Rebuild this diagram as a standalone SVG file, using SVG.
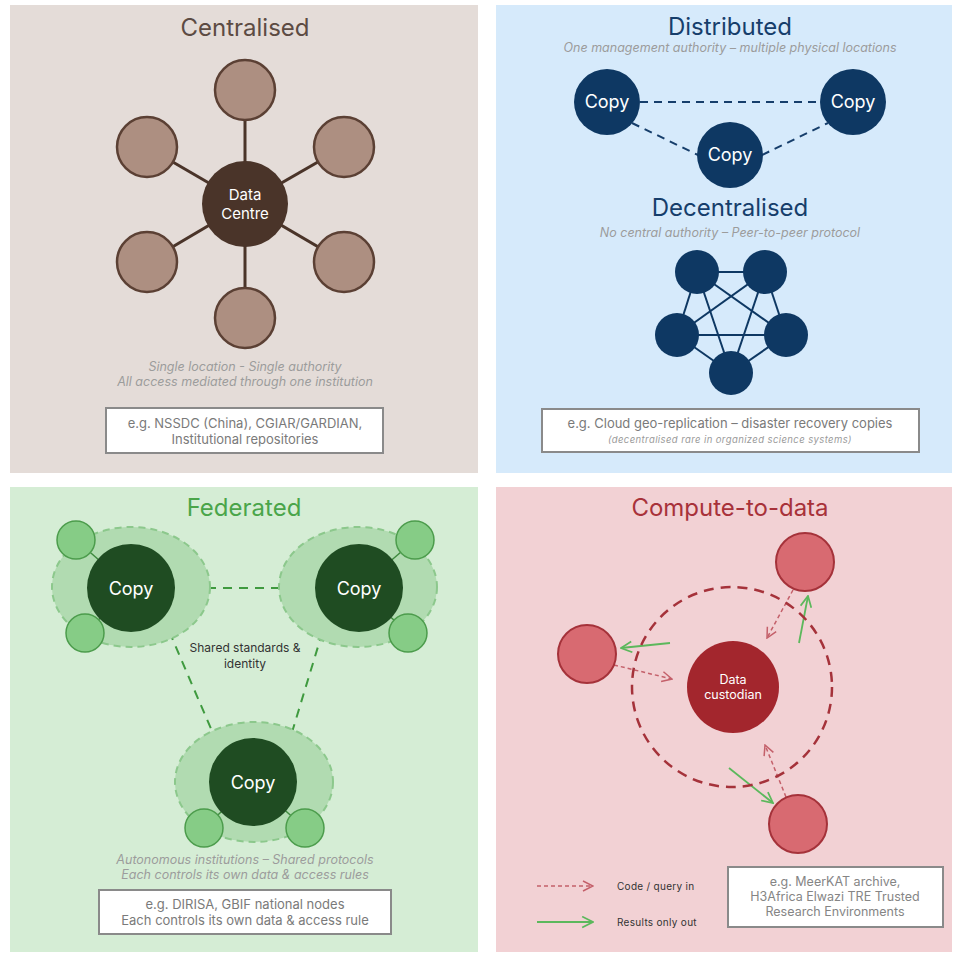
<svg xmlns="http://www.w3.org/2000/svg" width="953" height="954" viewBox="0 0 953 954">
<defs>
<style>
text{font-family:Inter,"Noto Sans","Liberation Sans",sans-serif;text-anchor:middle}
text.lg{text-anchor:start;font-size:10px;fill:#333;letter-spacing:0.3px}
.title{font-size:24px}
.note{font-size:12.5px;font-style:italic;fill:#9c9c9c}
.box{fill:#fff;stroke:#8a8a8a;stroke-width:2}
.boxt{font-size:13px;fill:#7a7a7a}
.sat{fill:#ad8f81;stroke:#5b4034;stroke-width:2.5}
.spoke{stroke:#4a3429;stroke-width:3}
.navy{fill:#0e3863}
.copyt{font-size:18px;fill:#fff}
.halo{fill:#b1dbb1;stroke:#8cc88c;stroke-width:2;stroke-dasharray:7 5}
.fcopy{fill:#1f4c22}
.small{fill:#86cc86;stroke:#4c9c4c;stroke-width:1.5}
.redc{fill:#d86a71;stroke:#a5323a;stroke-width:2}
.codein{stroke:#c4606a;stroke-width:1.5;stroke-dasharray:4 3;fill:none;marker-end:url(#ar)}
.resout{stroke:#5cb85c;stroke-width:1.8;fill:none;marker-end:url(#ag)}
</style>
<marker id="ar" viewBox="0 0 12 12" refX="11" refY="6" markerWidth="12" markerHeight="12" markerUnits="userSpaceOnUse" orient="auto">
<path d="M1,1 L11,6 L1,11" fill="none" stroke="#c4606a" stroke-width="1.5"/>
</marker>
<marker id="ag" viewBox="0 0 12 12" refX="11" refY="6" markerWidth="13" markerHeight="13" markerUnits="userSpaceOnUse" orient="auto">
<path d="M1,1 L11,6 L1,11" fill="none" stroke="#5cb85c" stroke-width="1.6"/>
</marker>
</defs>
<rect width="953" height="954" fill="#ffffff"/>

<!-- Panels -->
<g id="panel-centralised">
<rect x="10" y="5" width="468" height="468" fill="#e4dcd8"/>
<text class="title" x="245" y="36" fill="#5c4b43">Centralised</text>
</g>
<g id="panel-distributed">
<rect x="496" y="5" width="456" height="468" fill="#d6eafb"/>
<text class="title" x="730" y="35" fill="#163e6b">Distributed</text>
<text class="note" x="730" y="52">One management authority – multiple physical locations</text>
<text class="title" x="730" y="216" fill="#163e6b">Decentralised</text>
<text class="note" x="730" y="237">No central authority – Peer-to-peer protocol</text>
</g>
<g id="panel-federated">
<rect x="10" y="487" width="468" height="465" fill="#d5edd5"/>
<text class="title" x="244" y="516" fill="#4aa54a">Federated</text>
</g>
<g id="panel-compute">
<rect x="496" y="487" width="456" height="465" fill="#f2d1d4"/>
<text class="title" x="730" y="516" fill="#a8323a">Compute-to-data</text>
</g>

<!-- Connectors -->
<g id="connectors">
<g id="central-spokes" class="spoke">
<line x1="245" y1="204" x2="245" y2="90"/>
<line x1="245" y1="204" x2="147" y2="147"/>
<line x1="245" y1="204" x2="344" y2="147"/>
<line x1="245" y1="204" x2="147" y2="262"/>
<line x1="245" y1="204" x2="344" y2="262"/>
<line x1="245" y1="204" x2="245" y2="318"/>
</g>
<g id="distributed-links" stroke="#163e6b" stroke-width="2" stroke-dasharray="8 6">
<line x1="640" y1="102" x2="820" y2="102"/>
<line x1="632" y1="123" x2="698" y2="155"/>
<line x1="762" y1="155" x2="828" y2="123"/>
</g>
<g id="decentral-links" stroke="#0e3863" stroke-width="2">
<line x1="697" y1="272" x2="765" y2="272"/>
<line x1="697" y1="272" x2="677" y2="335"/>
<line x1="697" y1="272" x2="786" y2="335"/>
<line x1="697" y1="272" x2="731" y2="373"/>
<line x1="765" y1="272" x2="677" y2="335"/>
<line x1="765" y1="272" x2="786" y2="335"/>
<line x1="765" y1="272" x2="731" y2="373"/>
<line x1="677" y1="335" x2="786" y2="335"/>
<line x1="677" y1="335" x2="731" y2="373"/>
<line x1="786" y1="335" x2="731" y2="373"/>
</g>
<g id="federated-links" stroke="#3f9a3f" stroke-width="2" stroke-dasharray="9 7">
<line x1="175" y1="588" x2="315" y2="588"/>
<line x1="163" y1="617" x2="221" y2="752"/>
<line x1="327" y1="617" x2="286" y2="752"/>
</g>
<g id="compute-arrows">
<line class="resout" x1="670" y1="643" x2="621" y2="648"/>
<line class="codein" x1="614" y1="665" x2="672" y2="679"/>
<line class="codein" x1="793" y1="590" x2="767" y2="638"/>
<line class="resout" x1="799" y1="643" x2="808" y2="596"/>
<line class="resout" x1="729" y1="768" x2="773" y2="803"/>
<line class="codein" x1="786" y1="797" x2="765" y2="745"/>
</g>
</g>

<!-- Centralised nodes -->
<g id="sat-top"><circle class="sat" cx="245" cy="90" r="30"/></g>
<g id="sat-ul"><circle class="sat" cx="147" cy="147" r="30"/></g>
<g id="sat-ur"><circle class="sat" cx="344" cy="147" r="30"/></g>
<g id="sat-ll"><circle class="sat" cx="147" cy="262" r="30"/></g>
<g id="sat-lr"><circle class="sat" cx="344" cy="262" r="30"/></g>
<g id="sat-bottom"><circle class="sat" cx="245" cy="318" r="30"/></g>
<g id="data-centre">
<circle cx="245" cy="204" r="43" fill="#4a3429"/>
<text x="245" y="200" font-size="15" fill="#fff">Data</text>
<text x="245" y="219" font-size="15" fill="#fff">Centre</text>
</g>
<g id="central-notes">
<text class="note" x="245" y="371">Single location  - Single authority</text>
<text class="note" x="245" y="386">All access mediated through one institution</text>
</g>
<g id="central-example">
<rect class="box" x="106" y="408" width="277" height="45"/>
<text class="boxt" x="245" y="428">e.g. NSSDC (China), CGIAR/GARDIAN,</text>
<text class="boxt" x="245" y="444">Institutional repositories</text>
</g>

<!-- Distributed nodes -->
<g id="dist-copy-left"><circle class="navy" cx="607" cy="102" r="33"/><text class="copyt" x="607" y="108">Copy</text></g>
<g id="dist-copy-right"><circle class="navy" cx="853" cy="102" r="33"/><text class="copyt" x="853" y="108">Copy</text></g>
<g id="dist-copy-bottom"><circle class="navy" cx="730" cy="155" r="33"/><text class="copyt" x="730" y="161">Copy</text></g>

<!-- Decentralised nodes -->
<g id="dec-1"><circle class="navy" cx="697" cy="272" r="22"/></g>
<g id="dec-2"><circle class="navy" cx="765" cy="272" r="22"/></g>
<g id="dec-3"><circle class="navy" cx="677" cy="335" r="22"/></g>
<g id="dec-4"><circle class="navy" cx="786" cy="335" r="22"/></g>
<g id="dec-5"><circle class="navy" cx="731" cy="373" r="22"/></g>
<g id="dist-example">
<rect class="box" x="542" y="409" width="377" height="43"/>
<text class="boxt" x="730" y="428">e.g. Cloud geo-replication – disaster recovery copies</text>
<text x="730" y="443" font-size="9.5" font-style="italic" fill="#9a9a9a" letter-spacing="0.4">(decentralised rare in organized science systems)</text>
</g>

<!-- Federated nodes -->
<g id="fed-left">
<ellipse class="halo" cx="131" cy="587" rx="79" ry="60"/>
<line x1="131" y1="588" x2="76" y2="540" stroke="#3f8a3f" stroke-width="1.5"/>
<line x1="131" y1="588" x2="85" y2="633" stroke="#3f8a3f" stroke-width="1.5"/>
<circle class="small" cx="76" cy="540" r="19"/>
<circle class="small" cx="85" cy="633" r="19"/>
<circle class="fcopy" cx="131" cy="588" r="44"/>
<text class="copyt" x="131" y="595">Copy</text>
</g>
<g id="fed-right">
<ellipse class="halo" cx="358" cy="587" rx="79" ry="60"/>
<line x1="359" y1="588" x2="415" y2="540" stroke="#3f8a3f" stroke-width="1.5"/>
<line x1="359" y1="588" x2="408" y2="633" stroke="#3f8a3f" stroke-width="1.5"/>
<circle class="small" cx="415" cy="540" r="19"/>
<circle class="small" cx="408" cy="633" r="19"/>
<circle class="fcopy" cx="359" cy="588" r="44"/>
<text class="copyt" x="359" y="595">Copy</text>
</g>
<g id="fed-bottom">
<ellipse class="halo" cx="254" cy="782" rx="79" ry="60"/>
<line x1="253" y1="782" x2="204" y2="828" stroke="#3f8a3f" stroke-width="1.5"/>
<line x1="253" y1="782" x2="305" y2="828" stroke="#3f8a3f" stroke-width="1.5"/>
<circle class="small" cx="204" cy="828" r="19"/>
<circle class="small" cx="305" cy="828" r="19"/>
<circle class="fcopy" cx="253" cy="782" r="44"/>
<text class="copyt" x="253" y="789">Copy</text>
</g>
<g id="fed-shared">
<text x="245" y="652" font-size="12" fill="#333">Shared standards &amp;</text>
<text x="245" y="668" font-size="12" fill="#333">identity</text>
</g>
<g id="fed-notes">
<text class="note" x="245" y="864">Autonomous institutions – Shared protocols</text>
<text class="note" x="245" y="879">Each controls its own data &amp; access rules</text>
</g>
<g id="fed-example">
<rect class="box" x="99" y="890" width="292" height="44"/>
<text class="boxt" x="245" y="909">e.g. DIRISA, GBIF national nodes</text>
<text class="boxt" x="245" y="925">Each controls its own data &amp; access rule</text>
</g>

<!-- Compute nodes -->
<g id="boundary"><circle cx="732" cy="687" r="100" fill="none" stroke="#a5323a" stroke-width="2.5" stroke-dasharray="10 7"/></g>
<g id="custodian">
<circle cx="733" cy="687" r="46" fill="#a3262d"/>
<text x="733" y="684" font-size="12.5" fill="#fff">Data</text>
<text x="733" y="699" font-size="12.5" fill="#fff">custodian</text>
</g>
<g id="user-top"><circle class="redc" cx="805" cy="562" r="29"/></g>
<g id="user-left"><circle class="redc" cx="587" cy="654" r="29"/></g>
<g id="user-bottom"><circle class="redc" cx="798" cy="824" r="29"/></g>
<g id="legend">
<line class="codein" x1="537" y1="886" x2="593" y2="886"/>
<text class="lg" x="617" y="890">Code / query in</text>
<line class="resout" x1="537" y1="922" x2="593" y2="922"/>
<text class="lg" x="617" y="926">Results only out</text>
</g>
<g id="compute-example">
<rect class="box" x="728" y="867" width="215" height="60"/>
<text x="835" y="886" font-size="12.5" fill="#858585">e.g. MeerKAT archive,</text>
<text x="835" y="901" font-size="12.5" fill="#858585">H3Africa Elwazi TRE Trusted</text>
<text x="835" y="916" font-size="12.5" fill="#858585">Research Environments</text>
</g>
</svg>
